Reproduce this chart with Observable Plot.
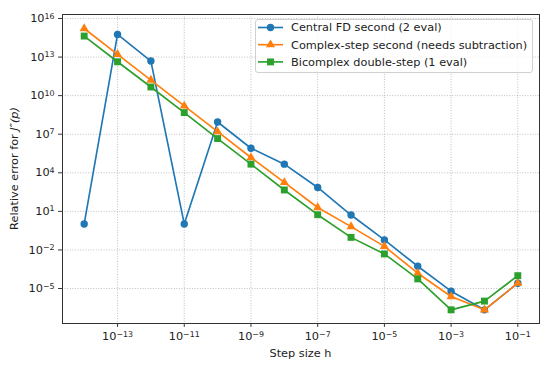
<!DOCTYPE html>
<html><head><meta charset="utf-8">
<script src="https://cdn.jsdelivr.net/npm/d3@7"></script>
<script src="https://cdn.jsdelivr.net/npm/@observablehq/plot@0.6"></script>
<style>body{margin:0;background:#fff} svg{display:block}</style>
</head><body><div id="chart"></div>
<script>
const stepSizes = [1e-14, 1e-13, 1e-12, 1e-11, 1e-10, 1e-9, 1e-8, 1e-7, 1e-6, 1e-5, 1e-4, 1e-3, 1e-2, 1e-1];
const centralFD = [1.05e0, 5.8e14, 4.9e12, 1.05e0, 8.9e7, 8.1e5, 4.7e4, 7.2e2, 5.2e0, 6.0e-2, 5.4e-4, 6.2e-6, 2.2e-7, 2.6e-5];
const complexStep = [1.66e15, 1.62e13, 1.62e11, 1.58e9, 1.58e7, 1.55e5, 1.78e3, 2.0e1, 6.5e-1, 1.9e-2, 1.55e-4, 2.4e-6, 2.2e-7, 2.6e-5];
const bicomplex = [4.3e14, 4.3e12, 4.7e10, 4.8e8, 4.6e6, 4.7e4, 4.6e2, 5.5e0, 9.5e-2, 4.9e-3, 5.6e-5, 2.2e-7, 1.05e-6, 1.0e-4];
const seriesNames = ["Central FD second (2 eval)", "Complex-step second (needs subtraction)", "Bicomplex double-step (1 eval)"];
const seriesColors = ["#1f77b4", "#ff7f0e", "#2ca02c"];
const seriesSymbols = ["circle", "triangle", "square"];
const xTickValues = [1e-13, 1e-11, 1e-9, 1e-7, 1e-5, 1e-3, 1e-1];
const yTickValues = [1e-5, 1e-2, 1e1, 1e4, 1e7, 1e10, 1e13, 1e16];
const xLabel = "Step size h";
const yLabelPlain = "Relative error for ";
const yLabelMath = "J\u2033(p)";

const seriesValues = [centralFD, complexStep, bicomplex];
const rows = [];
seriesValues.forEach((vals, s) => vals.forEach((v, i) => rows.push({h: stepSizes[i], err: v, s})));

const FS = "11.3px";
const symR = [3.7, 3.4, 3.9];
const fmt = d => "10^" + Math.round(Math.log10(d));
const marks = [
  Plot.gridX(xTickValues, {stroke: "#b0b0b0", strokeOpacity: 1, strokeWidth: 0.8, strokeDasharray: "1,1.6"}),
  Plot.gridY(yTickValues, {stroke: "#b0b0b0", strokeOpacity: 1, strokeWidth: 0.8, strokeDasharray: "1,1.6"})
];
seriesNames.forEach((name, s) => {
  const d = rows.filter(r => r.s === s);
  marks.push(Plot.line(d, {x: "h", y: "err", stroke: seriesColors[s], strokeWidth: 1.65}));
  marks.push(Plot.dot(d, {x: "h", y: "err", fill: seriesColors[s], stroke: "none", symbol: seriesSymbols[s], r: symR[s]}));
});
marks.push(Plot.frame({stroke: "#333", strokeWidth: 1}));
marks.push(Plot.axisX(xTickValues, {tickSize: 3.9, tickPadding: 5, tickFormat: fmt, stroke: "#333", label: null}));
marks.push(Plot.axisY(yTickValues, {tickSize: 3.9, tickPadding: 4, tickFormat: fmt, stroke: "#333", label: null}));

const chart = Plot.plot({
  width: 550, height: 366,
  marginLeft: 62, marginRight: 11, marginTop: 14, marginBottom: 43,
  style: {fontFamily: "DejaVu Sans", fontSize: FS, background: "white", color: "#222"},
  x: {type: "log", domain: [Math.pow(10, -14.65), Math.pow(10, -0.35)]},
  y: {type: "log", domain: [Math.pow(10, -7.72), Math.pow(10, 16.31)]},
  marks
});
document.getElementById("chart").appendChild(chart);

const svg = d3.select(chart);
svg.selectAll('g[aria-label="x-axis tick label"] text, g[aria-label="y-axis tick label"] text').each(function () {
  const t = this.textContent;
  if (!t.startsWith("10^")) return;
  const e = t.slice(3).replace("-", "\u2212");
  this.textContent = "10";
  d3.select(this).append("tspan").attr("dy", "-0.45em").attr("font-size", "7.9px").text(e);
});

// axis titles
svg.append("text").attr("x", 300.5).attr("y", 357).attr("text-anchor", "middle")
  .attr("font-family", "DejaVu Sans").attr("font-size", FS).attr("fill", "#222").text(xLabel);
const yl = svg.append("text").attr("transform", "translate(18,168.5) rotate(-90)").attr("text-anchor", "middle")
  .attr("font-family", "DejaVu Sans").attr("font-size", FS).attr("fill", "#222");
yl.append("tspan").text(yLabelPlain);
yl.append("tspan").attr("font-style", "italic").text(yLabelMath);

// legend
const lg = svg.append("g");
lg.append("rect").attr("x", 255.5).attr("y", 19.5).attr("width", 277).attr("height", 53).attr("rx", 2.5)
  .attr("fill", "white").attr("fill-opacity", 0.8).attr("stroke", "#d0d0d0").attr("stroke-width", 1);
seriesNames.forEach((name, s) => {
  const y = 27.5 + s * 17.2;
  lg.append("line").attr("x1", 258).attr("x2", 283).attr("y1", y).attr("y2", y)
    .attr("stroke", seriesColors[s]).attr("stroke-width", 1.65);
  const sym = {circle: d3.symbolCircle, triangle: d3.symbolTriangle, square: d3.symbolSquare}[seriesSymbols[s]];
  lg.append("path").attr("transform", `translate(270.5,${y})`).attr("d", d3.symbol(sym, Math.PI * symR[s] * symR[s])()).attr("fill", seriesColors[s]);
  lg.append("text").attr("x", 291).attr("y", y).attr("dy", "0.35em").attr("text-anchor", "start")
    .attr("font-family", "DejaVu Sans").attr("font-size", FS).attr("fill", "#222").text(name);
});
</script>
</body></html>
